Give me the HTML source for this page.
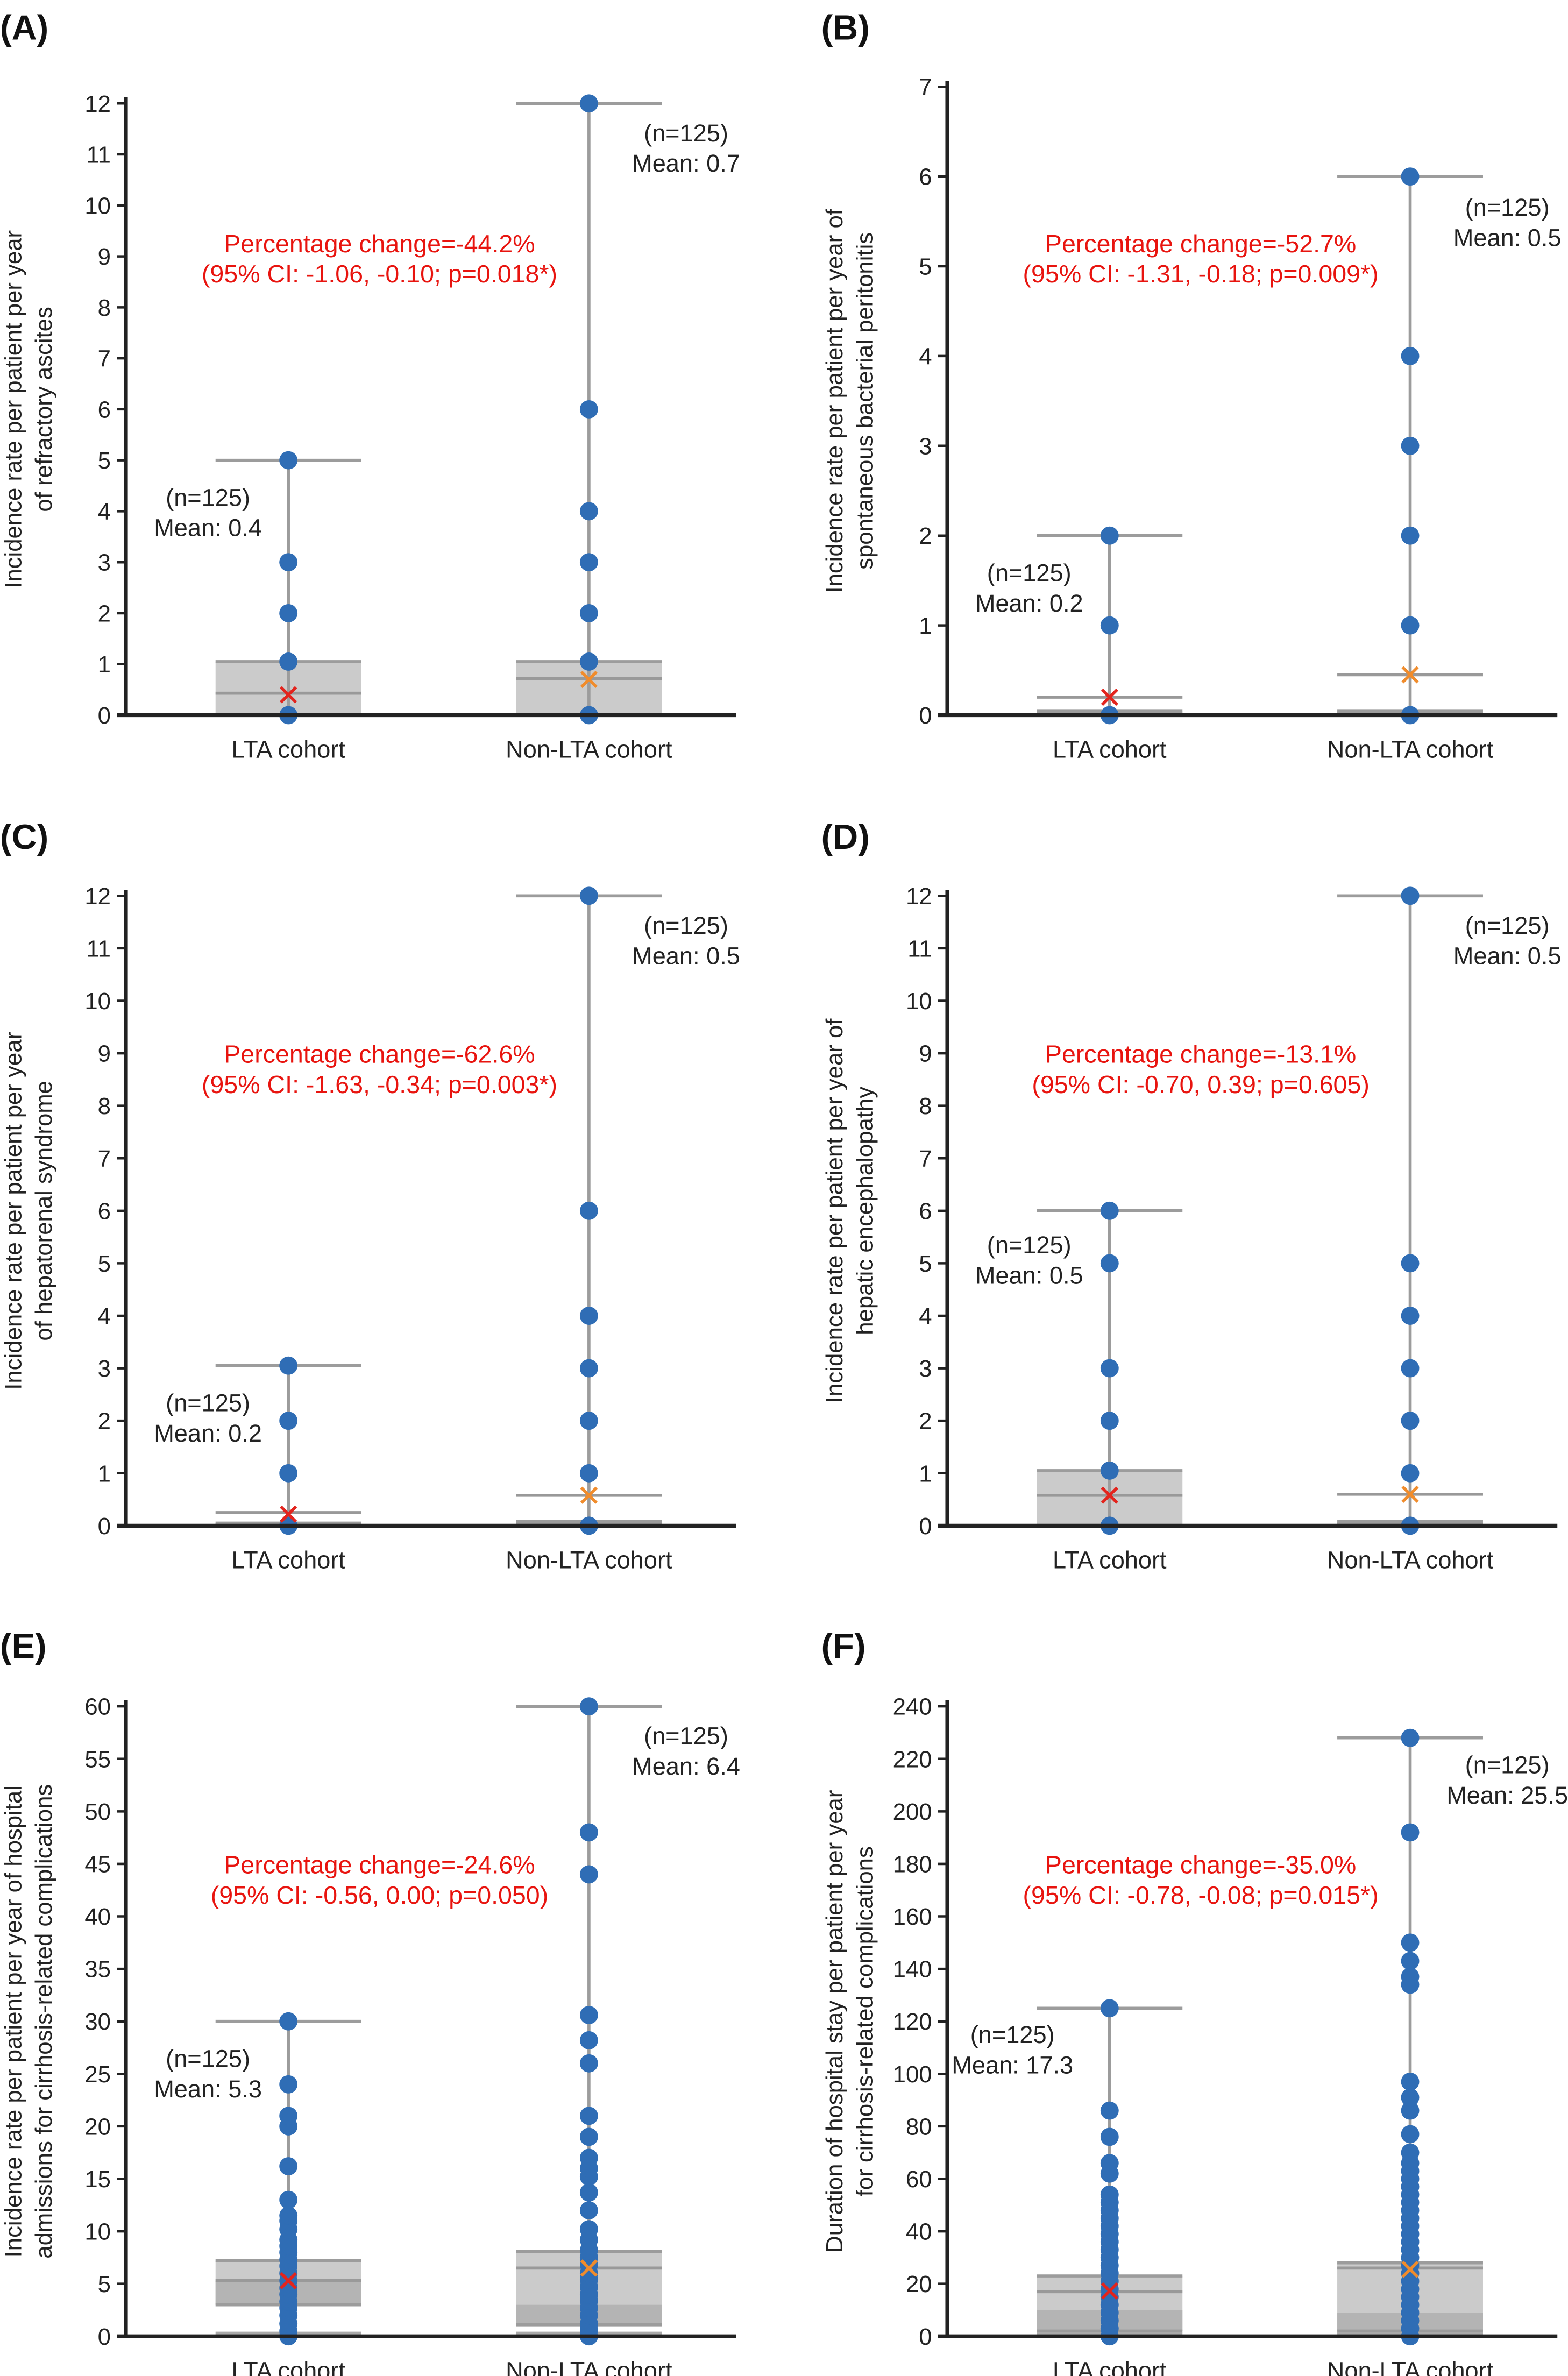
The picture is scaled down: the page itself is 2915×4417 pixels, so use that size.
<!DOCTYPE html>
<html><head><meta charset="utf-8">
<style>
html,body{margin:0;padding:0;background:#fff}
svg{display:block}
text{font-family:"Liberation Sans",Arial,sans-serif}
</style></head>
<body>
<svg id="fig" width="2915" height="4417" viewBox="0 0 1033 1565" xmlns="http://www.w3.org/2000/svg"></svg>
<script>
// ---- data arrays ----
const panelLetters = ["(A)","(B)","(C)","(D)","(E)","(F)"];
const categories = ["LTA cohort","Non-LTA cohort"];
const yMaxes = [12,7,12,12,60,240];
const yTickSteps = [1,1,1,1,5,20];
const pctLine1 = ["Percentage change=-44.2%","Percentage change=-52.7%","Percentage change=-62.6%","Percentage change=-13.1%","Percentage change=-24.6%","Percentage change=-35.0%"];
const pctLine2 = ["(95% CI: -1.06, -0.10; p=0.018*)","(95% CI: -1.31, -0.18; p=0.009*)","(95% CI: -1.63, -0.34; p=0.003*)","(95% CI: -0.70, 0.39; p=0.605)","(95% CI: -0.56, 0.00; p=0.050)","(95% CI: -0.78, -0.08; p=0.015*)"];
const yTitle1 = ["Incidence rate per patient per year","Incidence rate per patient per year of","Incidence rate per patient per year","Incidence rate per patient per year of","Incidence rate per patient per year of hospital","Duration of hospital stay per patient per year"];
const yTitle2 = ["of refractory ascites","spontaneous bacterial peritonitis","of hepatorenal syndrome","hepatic encephalopathy","admissions for cirrhosis-related complications","for cirrhosis-related complications"];
const meanLabels = [["Mean: 0.4","Mean: 0.7"],["Mean: 0.2","Mean: 0.5"],["Mean: 0.2","Mean: 0.5"],["Mean: 0.5","Mean: 0.5"],["Mean: 5.3","Mean: 6.4"],["Mean: 17.3","Mean: 25.5"]];
const nLabel = "(n=125)";
// per panel: [LTA, Non-LTA]
const meanVals = [[0.4,0.7],[0.2,0.45],[0.22,0.58],[0.58,0.6],[5.3,6.5],[17.3,25.5]];
const whiskerHigh = [[5,12],[2,6],[3.05,12],[6,12],[30,60],[125,228]];
const boxLow = [[0,0],[0.02,0.02],[0.02,0.02],[0,0.02],[3,1.1],[2,2]];
const boxHigh = [[1.05,1.05],[0.05,0.05],[0.05,0.08],[1.05,0.08],[7.2,8.1],[23,28]];
const bandHigh = [[0,0],[0,0],[0,0],[0,0],[5.3,3],[10,9]];
const midLine = [[0.43,0.72],[0.2,0.45],[0.25,0.58],[0.58,0.6],[5.3,6.5],[17,26]];
const lowLine = [[0,0],[0,0],[0,0],[0,0],[0.3,0.3],[1,1]];
const pointsLTA = [
 [0,1.05,2,3,5],
 [0,1,2],
 [0,1,2,3.05],
 [0,1.05,2,3,5,6],
 [0,0.5,1.2,2,2.7,3.3,4,4.6,5.3,6,6.7,7.3,8,8.6,9.2,10.2,11,11.5,13,16.2,20,21,24,30],
 [0,3,6,9,12,15,18,21,24,27,30,33,36,39,42,45,48,51,54,62,66,76,86,125]
];
const pointsNon = [
 [0,1.05,2,3,4,6,12],
 [0,1,2,3,4,6],
 [0,1,2,3,4,6,12],
 [0,1,2,3,4,5,12],
 [0,0.6,1.2,2,2.7,3.4,4,4.7,5.4,6,6.8,7.5,8.2,9.2,10.2,12,13.7,15.2,16,17,19,21,26,28.2,30.6,44,48,60],
 [0,3,6,9,12,15,18,21,24,27,30,33,36,39,42,45,48,51,54,57,60,63,66,70,77,86,91,97,134,137,143,150,192,228]
];
// ---- layout (display units) ----
const axX = [83,624,83,624,83,624];
const zeroY = [471,471,1005,1005,1539,1539];
const topY = [68,57,590,590,1124,1124];
const letterY = [26,26,559,559,1092,1092];
const svg = document.getElementById('fig');
const NS = "http://www.w3.org/2000/svg";
function mk(tag, attrs, parent){const e=document.createElementNS(NS,tag);for(const k in attrs)e.setAttribute(k,attrs[k]);(parent||svg).appendChild(e);return e;}
function txt(s, attrs, parent){const e=mk('text',attrs,parent);e.textContent=s;return e;}

for(let p=0;p<6;p++){
  const g=mk('g',{});
  
  
  const ax=axX[p], y0=zeroY[p], yT=topY[p], ymax=yMaxes[p];
  const Y=v=>y0-(v/ymax)*(y0-yT);
  const cx=[ax+107, ax+305];
  const lt=txt(panelLetters[p],{x:ax-83,y:letterY[p],'font-size':23,'font-weight':'bold',fill:'#111'},g);
  
  
  const cy=(y0+yT)/2;
  const t1=txt(yTitle1[p],{x:0,y:0,'font-size':15.5,'text-anchor':'middle',fill:'#222',transform:`translate(${ax-69},${cy}) rotate(-90)`},g);
  
  
  const t2=txt(yTitle2[p],{x:0,y:0,'font-size':15.5,'text-anchor':'middle',fill:'#222',transform:`translate(${ax-49},${cy}) rotate(-90)`},g);
  
  
  for(let v=0;v<=ymax+1e-9;v+=yTickSteps[p]){
    mk('line',{x1:ax-6,x2:ax,y1:Y(v),y2:Y(v),stroke:'#222','stroke-width':1.6},g);
    const tl=txt(String(v),{x:ax-10,y:Y(v)+5.5,'font-size':15.5,'text-anchor':'end',fill:'#222'},g);
    
    
  }
  for(let c=0;c<2;c++){
    const x=cx[c], bw=48;
    const bl=Y(boxLow[p][c]), bh=Y(boxHigh[p][c]);
    mk('rect',{x:x-bw,y:bh,width:bw*2,height:Math.max(bl-bh,0.5),fill:'#cbcbcb'},g);
    if(bandHigh[p][c]>0){const by=Y(bandHigh[p][c]);mk('rect',{x:x-bw,y:by,width:bw*2,height:bl-by,fill:'#b4b4b4'},g);}
    mk('line',{x1:x-bw,x2:x+bw,y1:bh,y2:bh,stroke:'#9c9c9c','stroke-width':2},g);
    mk('line',{x1:x-bw,x2:x+bw,y1:bl,y2:bl,stroke:'#9c9c9c','stroke-width':2},g);
    mk('line',{x1:x-bw,x2:x+bw,y1:Y(midLine[p][c]),y2:Y(midLine[p][c]),stroke:'#999','stroke-width':2},g);
    if(lowLine[p][c]>0) mk('line',{x1:x-bw,x2:x+bw,y1:Y(lowLine[p][c]),y2:Y(lowLine[p][c]),stroke:'#aaa','stroke-width':2},g);
    const wh=Y(whiskerHigh[p][c]);
    mk('line',{x1:x,x2:x,y1:y0,y2:wh,stroke:'#9c9c9c','stroke-width':2},g);
    mk('line',{x1:x-bw,x2:x+bw,y1:wh,y2:wh,stroke:'#9c9c9c','stroke-width':2},g);
    const pts=c===0?pointsLTA[p]:pointsNon[p];
    for(const v of pts){
      const d=mk('circle',{cx:x,cy:Y(v),r:6,fill:'#2f6db5'},g);
      
      
    }
    const my=Y(meanVals[p][c]), col=c===0?'#e3241d':'#f08c2c';
    const mg=mk('g',{stroke:col,'stroke-width':2},g);
    
    
    mk('line',{x1:x-5,y1:my-5,x2:x+5,y2:my+5},mg);
    mk('line',{x1:x-5,y1:my+5,x2:x+5,y2:my-5},mg);
    const cl=txt(categories[c],{x:x,y:y0+28,'font-size':16,'text-anchor':'middle',fill:'#222'},g);
    
    
    let axn, ayn;
    if(c===0){axn=x-53; ayn=Y(whiskerHigh[p][c])+30;}
    else{axn=x+64; ayn=yT+25;}
    if(p===5&&c===1) ayn=yT+44;
    if(p===1&&c===1) ayn=yT+85;
    if(p===3&&c===0) ayn=Y(6)+28;
    if(p===5&&c===0) {axn=x-64; ayn=Y(125)+23;}
    const a1=txt(nLabel,{x:axn,y:ayn,'font-size':16,'text-anchor':'middle',fill:'#222'},g);
    
    
    const a2=txt(meanLabels[p][c],{x:axn,y:ayn+20,'font-size':16,'text-anchor':'middle',fill:'#222'},g);
    
    
  }
  mk('line',{x1:ax,x2:ax,y1:yT-4,y2:y0,stroke:'#222','stroke-width':2.4},g);
  mk('line',{x1:ax-6,x2:ax+402,y1:y0,y2:y0,stroke:'#222','stroke-width':2.6},g);
  const pcx=ax+167, pcy=(p<2)?166:(p<4?700:1234);
  const r1=txt(pctLine1[p],{x:pcx,y:pcy,'font-size':16.5,'text-anchor':'middle',fill:'#e8140f'},g);
  
  
  const r2=txt(pctLine2[p],{x:pcx,y:pcy+20,'font-size':16.5,'text-anchor':'middle',fill:'#e8140f'},g);
  
  
}
</script>
</body></html>
